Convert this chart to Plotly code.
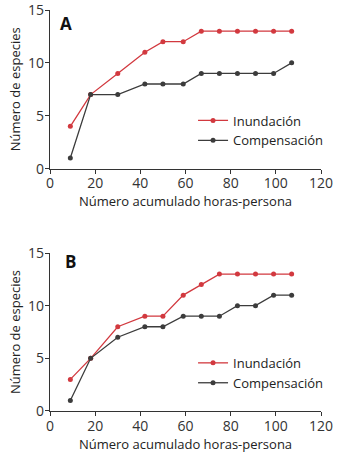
import plotly.graph_objects as go

horas = [9, 18, 30, 42, 50, 59, 67, 75, 83, 91, 99, 107]
a_inundacion = [4, 7, 9, 11, 12, 12, 13, 13, 13, 13, 13, 13]
a_compensacion = [1, 7, 7, 8, 8, 8, 9, 9, 9, 9, 9, 10]
b_inundacion = [3, 5, 8, 9, 9, 11, 12, 13, 13, 13, 13, 13]
b_compensacion = [1, 5, 7, 8, 8, 9, 9, 9, 10, 10, 11, 11]
x_ticks = [0, 20, 40, 60, 80, 100, 120]
y_ticks = [0, 5, 10, 15]

RED = "#d2393f"
GRAY = "#3c3c3c"
FONT = "Open Sans"

fig = go.Figure()

def add(y, name, color, xa, ya, legend):
    fig.add_trace(go.Scatter(
        x=horas, y=y, name=name, mode="lines+markers",
        line=dict(color=color, width=1.3),
        marker=dict(color=color, size=5),
        xaxis=xa, yaxis=ya, legend=legend,
    ))

add(a_inundacion, "Inundación", RED, "x", "y", "legend")
add(a_compensacion, "Compensación", GRAY, "x", "y", "legend")
add(b_inundacion, "Inundación", RED, "x2", "y2", "legend2")
add(b_compensacion, "Compensación", GRAY, "x2", "y2", "legend2")

axis_common = dict(
    showgrid=False, zeroline=False, showline=True, linecolor="#333",
    linewidth=1.2, ticks="outside", ticklen=4, tickcolor="#333", tickwidth=1.2,
    tickfont=dict(family=FONT, size=14, color="#333"), automargin=False,
    ticklabeloverflow="allow", ticklabelstandoff=-2,
)

x_title = dict(text="Número acumulado horas-persona", font=dict(family=FONT, size=13, color="#222"), standoff=0)
y_title = dict(text="Número de especies", font=dict(family=FONT, size=13, color="#222"), standoff=4)

legend_common = dict(xanchor="right", yanchor="middle",
                     font=dict(family=FONT, size=13, color="#222"), bgcolor="rgba(0,0,0,0)",
                     itemwidth=30, tracegroupgap=0)

fig.update_layout(
    width=344, height=462,
    margin=dict(l=50, r=23, t=10, b=51),
    paper_bgcolor="white", plot_bgcolor="white",
    showlegend=True,
    xaxis=dict(domain=[0, 1], range=[0, 120], tickvals=x_ticks, anchor="y", title=x_title, **axis_common),
    yaxis=dict(domain=[0.6045, 1.0], range=[0, 15], tickvals=y_ticks, anchor="x", title=y_title, **axis_common),
    xaxis2=dict(domain=[0, 1], range=[0, 120], tickvals=x_ticks, anchor="y2", title=x_title, **axis_common),
    yaxis2=dict(domain=[0, 0.394], range=[0, 15], tickvals=y_ticks, anchor="x2", title=y_title, **axis_common),
    legend=dict(x=1.026, y=0.6995, **legend_common),
    legend2=dict(x=1.026, y=0.095, **legend_common),
    annotations=[
        dict(text="<b>A</b>", x=0.06, y=1.0, xref="paper", yref="paper", showarrow=False,
             xanchor="center", yanchor="top", font=dict(family=FONT, size=17, color="#111")),
        dict(text="<b>B</b>", x=0.075, y=0.4075, xref="paper", yref="paper", showarrow=False,
             xanchor="center", yanchor="top", font=dict(family=FONT, size=17, color="#111")),
    ],
)

fig.write_html("out.html", config={"displayModeBar": False},
               post_script="document.body.style.margin='0';")
